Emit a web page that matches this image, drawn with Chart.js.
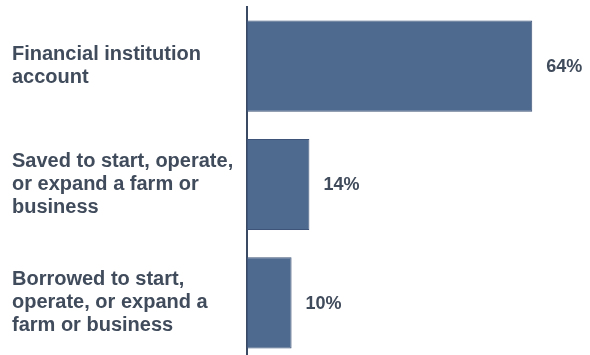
<!DOCTYPE html>
<html>
<head>
<meta charset="utf-8">
<script src="https://cdn.jsdelivr.net/npm/chart.js@4"></script>
<style>
  html, body { margin: 0; padding: 0; background: #fff; overflow: hidden; }
  #wrap { position: relative; width: 590px; height: 362px; }
</style>
</head>
<body>
<div id="wrap"><canvas id="accessChart"></canvas></div>
<script>
// Data
const categories = [
    ['Financial institution', 'account'],
    ['Saved to start, operate,', 'or expand a farm or', 'business'],
    ['Borrowed to start,', 'operate, or expand a', 'farm or business']
];
const values = [64, 14, 10];

const textColor = '#404b5b';

// value labels at the end of each bar
const valueLabels = {
    id: 'valueLabels',
    afterDatasetsDraw(chart) {
        const ctx = chart.ctx;
        const meta = chart.getDatasetMeta(0);
        ctx.save();
        ctx.font = 'bold 18px "Liberation Sans", Arial, sans-serif';
        ctx.fillStyle = textColor;
        ctx.textAlign = 'left';
        ctx.textBaseline = 'middle';
        meta.data.forEach((bar, i) => {
            ctx.fillText(values[i] + '%', bar.x + 14, bar.y + 1);
        });
        ctx.restore();
    }
};

const ctx = document.getElementById('accessChart').getContext('2d');

new Chart(ctx, {
    type: 'bar',
    data: {
        labels: categories,
        datasets: [{
            data: values,
            backgroundColor: '#4f6a8f',
            borderColor: '#3e5478',
            borderWidth: 1,
            borderSkipped: false,
            categoryPercentage: 0.77,
            barPercentage: 1
        }]
    },
    options: {
        indexAxis: 'y',
        responsive: true,
        maintainAspectRatio: false,
        animation: false,
        layout: {
            padding: { left: 12, right: 31, top: 7, bottom: 0 }
        },
        plugins: {
            legend: { display: false },
            tooltip: { enabled: false }
        },
        scales: {
            x: {
                display: false,
                min: 0,
                max: 70
            },
            y: {
                afterFit(scale) {
                    scale.width = 235;
                    scale.paddingTop = 0;
                    scale.paddingBottom = 0;
                },
                grid: { display: false, drawTicks: false },
                border: { display: true, color: '#3a4a63', width: 2 },
                ticks: {
                    crossAlign: 'far',
                    padding: 0,
                    color: textColor,
                    font: { family: '"Liberation Sans", Arial, sans-serif', size: 20, weight: 'bold', lineHeight: 1.15 }
                }
            }
        }
    },
    plugins: [valueLabels]
});
</script>
</body>
</html>
